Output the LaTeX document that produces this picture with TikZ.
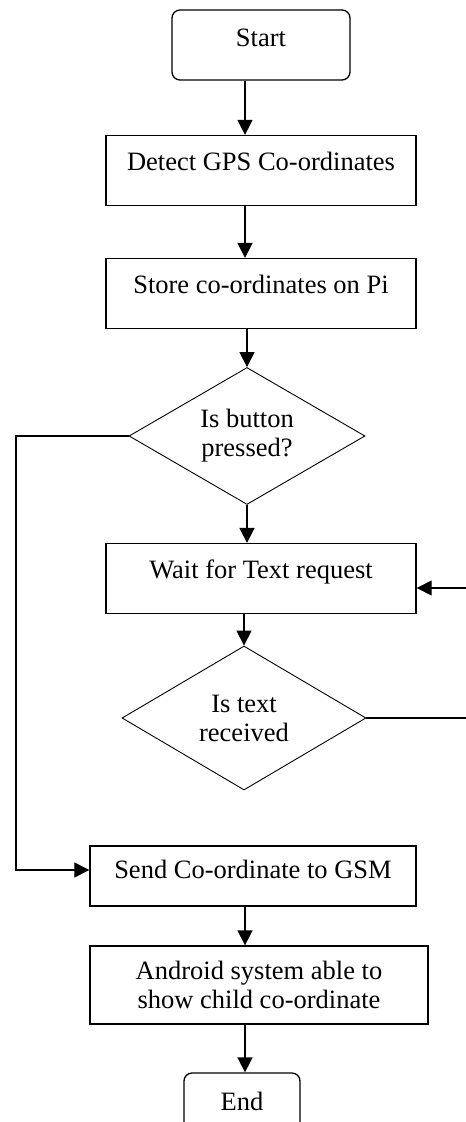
\documentclass[tikz,border=0pt]{standalone}
\usepackage{fontspec}
\setmainfont{Liberation Serif}
\usetikzlibrary{positioning,calc,arrows.meta,shapes}

\begin{document}
\begin{tikzpicture}[x=0.5pt,y=-0.5pt,
    >={Triangle[length=7.5pt,width=7.5pt]},
    font=\fontsize{13.25pt}{14.5pt}\selectfont,
    box/.style={draw,rectangle,line width=0.65pt,inner sep=0pt},
    term/.style={box,rounded corners=4pt,minimum height=35pt,text depth=7pt},
    proc/.style={box,minimum width=155pt,minimum height=35pt,text depth=9pt},
    decision/.style={draw,diamond,aspect=1.7,line width=0.45pt,inner sep=0pt,align=center},
    flow/.style={->,line width=0.8pt},
    loop/.style={->,line width=0.55pt}]
    \useasboundingbox (0,0) rectangle (465,1122);
    \node[term,minimum width=89pt] (start) at (261,45) {Start};
    \node[proc] (detect) at (261,170.5) {Detect GPS Co-ordinates};
    \node[proc] (store) at (261,293.5) {Store co-ordinates on Pi};
    \node[decision,minimum width=118pt,minimum height=68.5pt] (pressed) at (247,436) {Is button\\pressed?};
    \node[proc] (wait) at (261,578.5) {Wait for Text request};
    \node[decision,minimum width=122pt,minimum height=72pt] (received) at (244,718) {Is text\\received};
    \node[box,minimum width=163pt,minimum height=30pt,text depth=7pt] (send) at (253,876) {Send Co-ordinate to GSM};
    \node[box,align=center,minimum width=169pt,minimum height=39pt] (android) at (259,985) {Android system able to\\show child co-ordinate};
    \node[term,minimum width=58pt] (end) at (242,1108) {End};
    \coordinate (col) at (245,0);
    \coordinate (lft) at (16,0);
    \coordinate (rgt) at (468,0);
    % main line
    \draw[flow] (start.south -| col) -- (detect.north -| col);
    \draw[flow] (detect.south -| col) -- (store.north -| col);
    \draw[flow] (store.south -| pressed.north) -- (pressed.north);
    \draw[flow] (pressed.south) -- (pressed.south |- wait.north);
    \draw[flow] (wait.south -| received.north) -- (received.north);
    \draw[flow] (send.south -| col) -- (android.north -| col);
    \draw[flow] (android.south -| col) -- (end.north -| col);
    % side loops
    \draw[loop] (pressed.west) -- (pressed.west -| lft) |- ([yshift=3pt]send.west);
    \draw[loop] (received.east) -- (received.east -| rgt) |- ([yshift=-4.75pt]wait.east);
\end{tikzpicture}
\end{document}
